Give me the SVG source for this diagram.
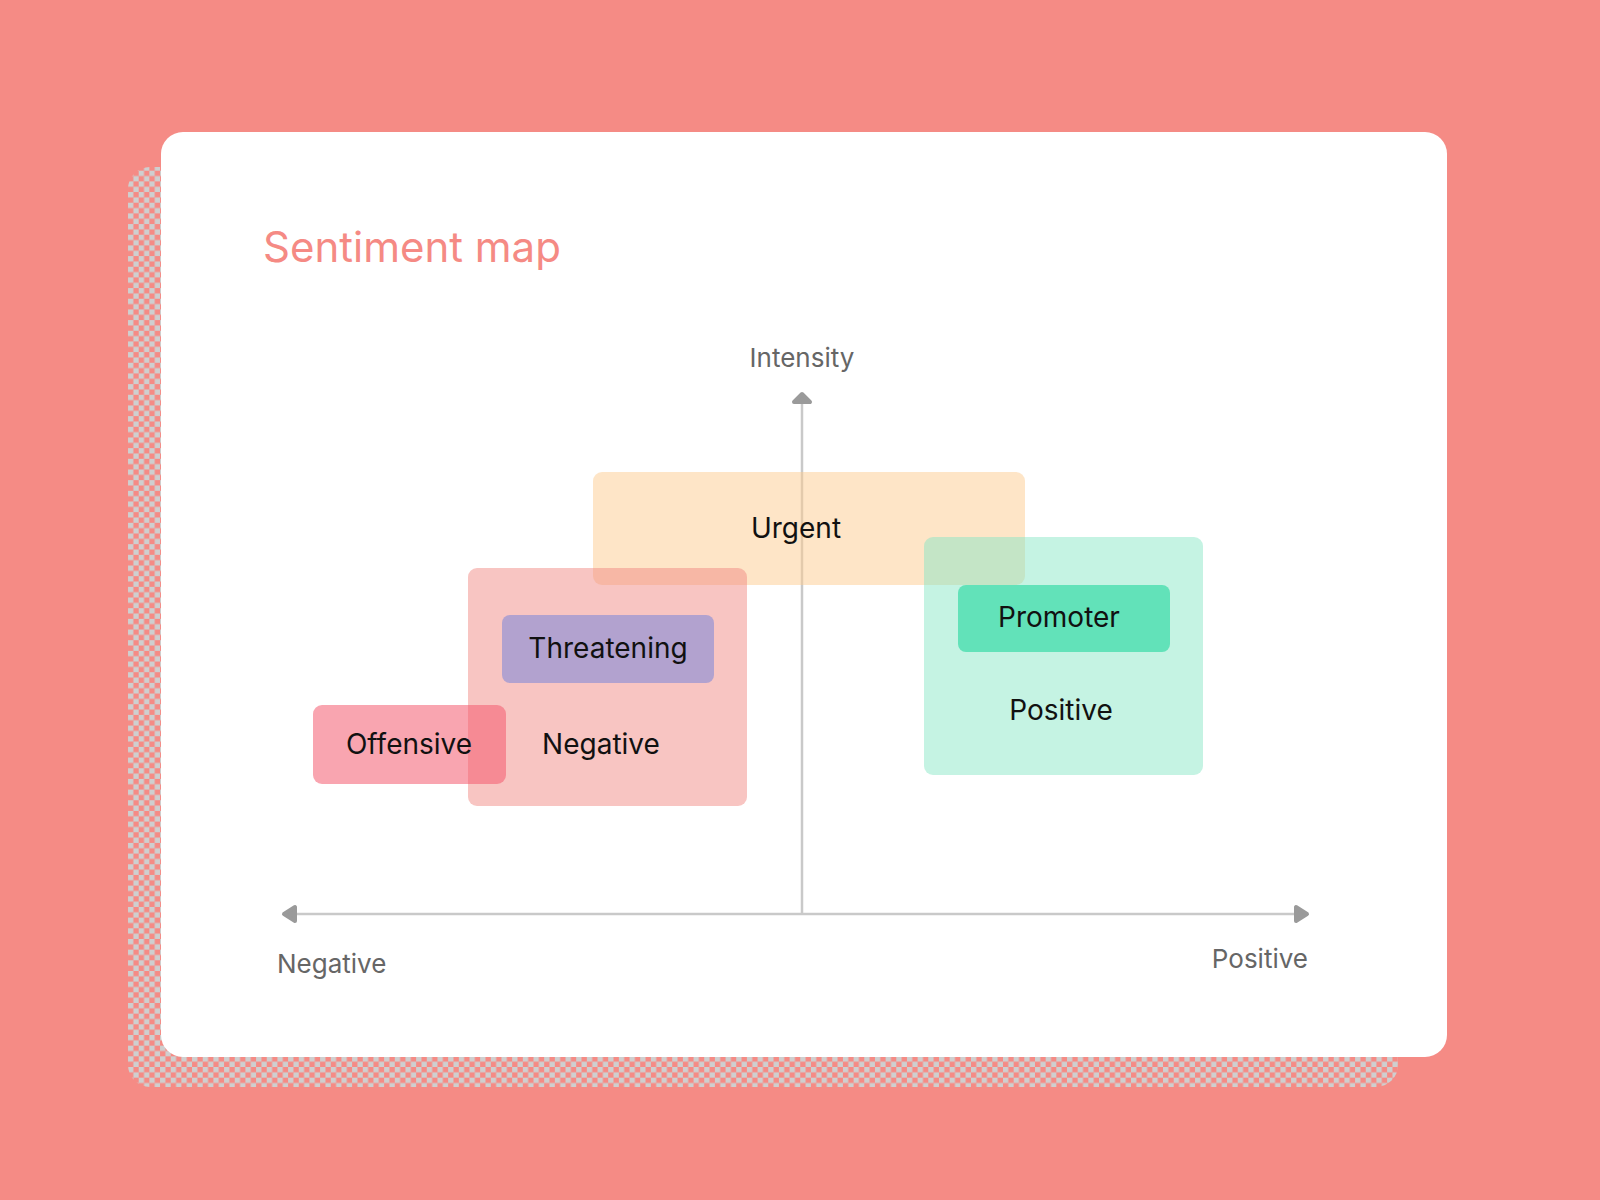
<svg xmlns="http://www.w3.org/2000/svg" width="1600" height="1200" viewBox="0 0 1600 1200">
  <defs>
    <pattern id="checker" x="0" y="0" width="10.67" height="10.67" patternUnits="userSpaceOnUse">
      <rect x="0" y="0" width="5.33" height="5.33" fill="#cfcfcf"/>
      <rect x="5.33" y="5.33" width="5.33" height="5.33" fill="#cfcfcf"/>
    </pattern>
    <style>
      .axis { stroke: #c9c9c9; stroke-width: 2.5; fill: none; }
      .head { fill: #9a9a9a; stroke: #9a9a9a; stroke-width: 4; stroke-linejoin: round; }
      .axlabel { font-family: Inter, "Noto Sans", "Liberation Sans", sans-serif; font-size: 26px; fill: #666666; }
      .label { font-family: Inter, "Noto Sans", "Liberation Sans", sans-serif; font-size: 28px; fill: #111111; text-anchor: middle; }
      .title { font-family: Inter, "Noto Sans", "Liberation Sans", sans-serif; font-size: 42px; fill: #f58a84; }
    </style>
  </defs>

  <rect x="0" y="0" width="1600" height="1200" fill="#f58b85"/>
  <rect x="128" y="167" width="1270" height="920" rx="22" fill="url(#checker)"/>
  <rect x="161" y="132" width="1286" height="925" rx="22" fill="#ffffff"/>

  <text class="title" x="263" y="262">Sentiment map</text>

  <g id="connectors">
    <line class="axis" x1="802" y1="402" x2="802" y2="914"/>
    <line class="axis" x1="294" y1="914" x2="1298" y2="914"/>
    <path class="head" d="M802,394 L810,402 L794,402 Z"/>
    <path class="head" d="M284,914 L295,907 L295,921 Z"/>
    <path class="head" d="M1307,914 L1296,907 L1296,921 Z"/>
  </g>

  <g id="axis-intensity"><text class="axlabel" x="802" y="367" text-anchor="middle">Intensity</text></g>
  <g id="axis-negative"><text class="axlabel" x="277" y="973">Negative</text></g>
  <g id="axis-positive"><text class="axlabel" x="1308" y="968" text-anchor="end">Positive</text></g>

  <g id="urgent">
    <rect x="593" y="472" width="432" height="113" rx="9" fill="#fdcb90" fill-opacity="0.5"/>
    <text class="label" x="796" y="538">Urgent</text>
  </g>
  <g id="positive">
    <rect x="924" y="537" width="279" height="238" rx="9" fill="#85e5c4" fill-opacity="0.48"/>
    <text class="label" x="1061" y="720">Positive</text>
  </g>
  <g id="promoter">
    <rect x="958" y="585" width="212" height="67" rx="8" fill="#62e2b9"/>
    <text class="label" x="1059" y="627">Promoter</text>
  </g>
  <g id="negative">
    <rect x="468" y="568" width="279" height="238" rx="9" fill="#f0857f" fill-opacity="0.48"/>
    <text class="label" x="601" y="754">Negative</text>
  </g>
  <g id="threatening">
    <rect x="502" y="615" width="212" height="68" rx="8" fill="#b2a2cf"/>
    <text class="label" x="608" y="658">Threatening</text>
  </g>
  <g id="offensive">
    <rect x="313" y="705" width="193" height="79" rx="9" fill="#f4596d" fill-opacity="0.54"/>
    <text class="label" x="409" y="754">Offensive</text>
  </g>
</svg>
